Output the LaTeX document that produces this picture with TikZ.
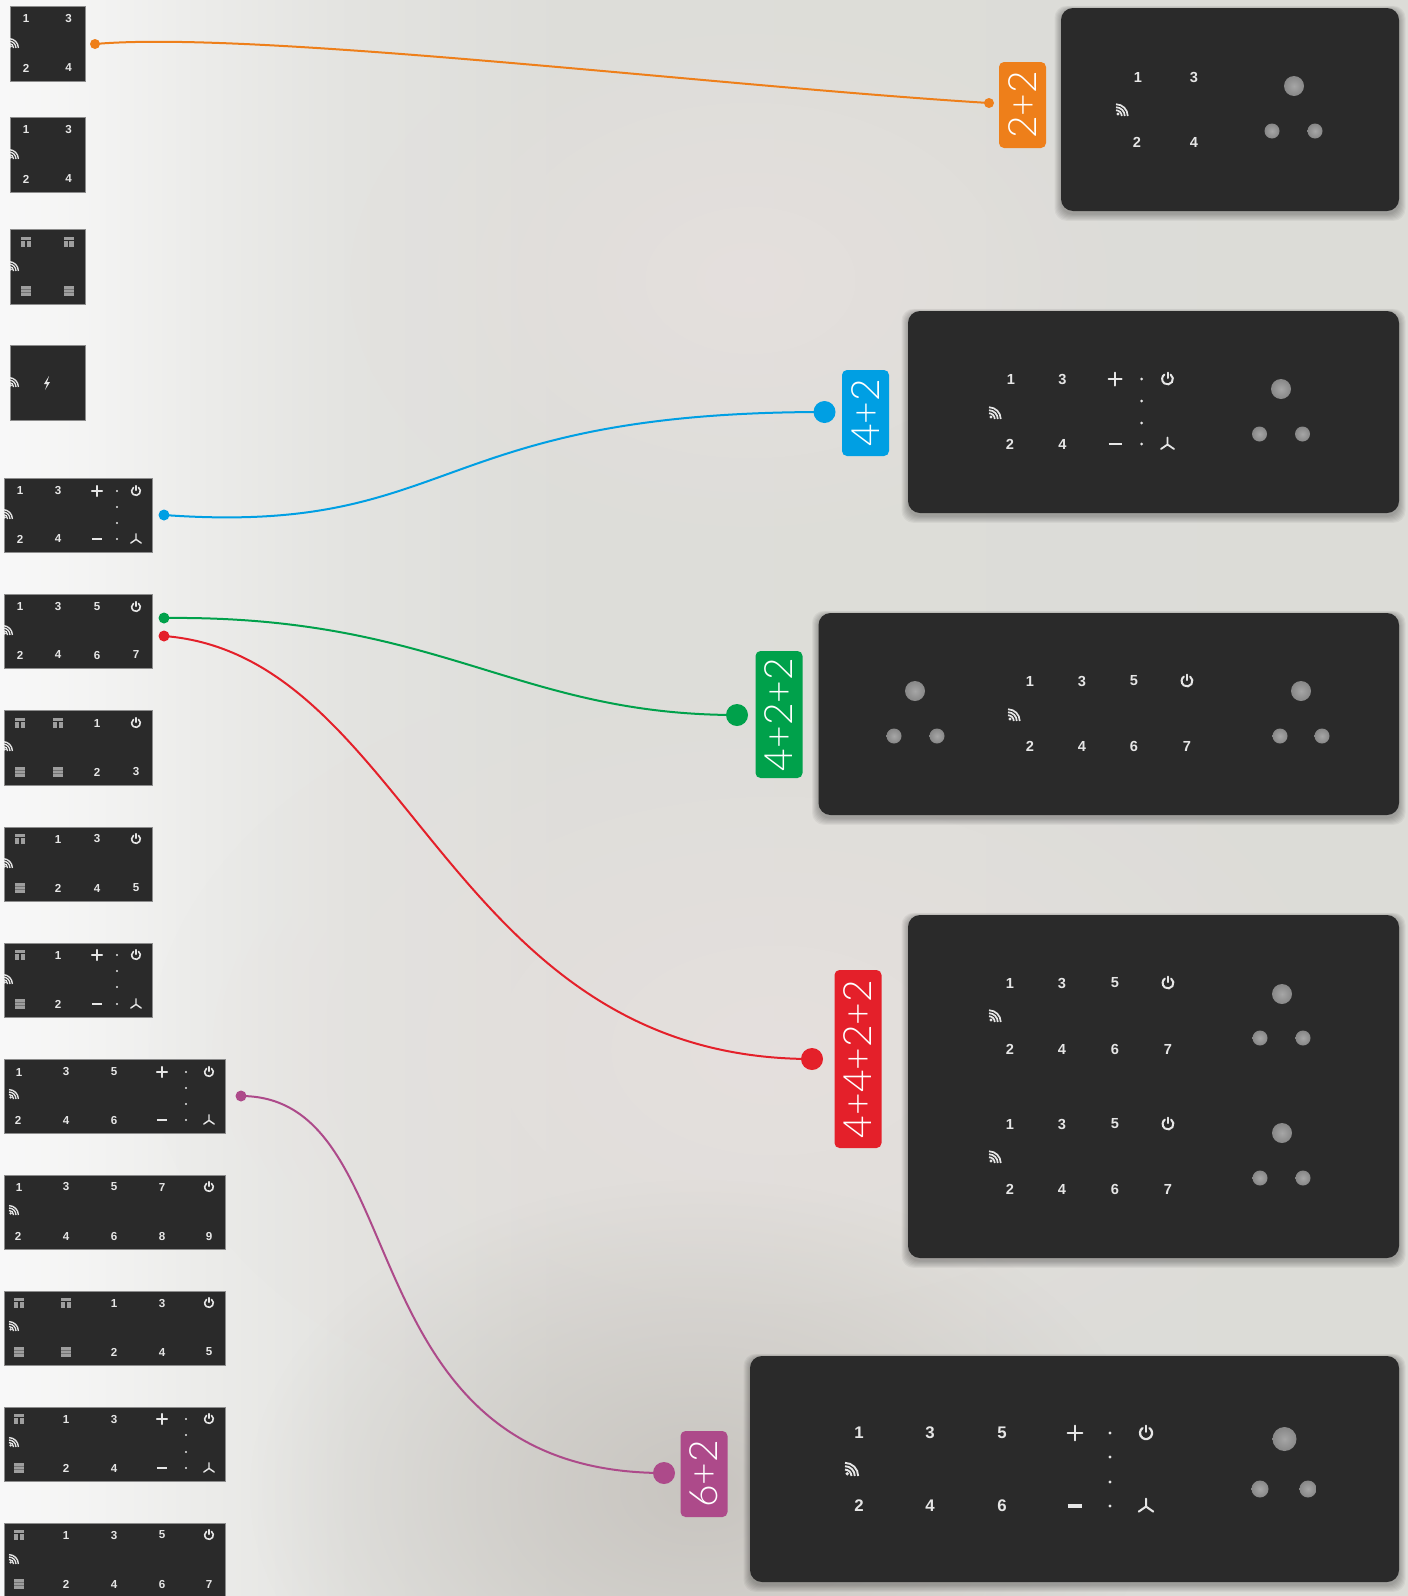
\documentclass[tikz,border=0pt]{standalone}
\usepackage{fontspec}
\setmainfont{Liberation Sans}
\newfontfamily\thinf{Lato Light}
\usetikzlibrary{fadings}
\definecolor{panelc}{HTML}{2A2A2A}
\definecolor{digc}{HTML}{E6E6E6}
\definecolor{iconc}{HTML}{9E9E9E}
\definecolor{corange}{HTML}{EE7F1A}
\definecolor{cblue}{HTML}{009FE3}
\definecolor{cgreen}{HTML}{00A14B}
\definecolor{cred}{HTML}{E4202A}
\definecolor{cpurple}{HTML}{AD4A8A}
\definecolor{bga}{HTML}{F8F8F8}
\definecolor{bgb}{HTML}{F3F3F2}
\definecolor{bgc}{HTML}{ECECEA}
\definecolor{bgd}{HTML}{E3E3E0}
\definecolor{bge}{HTML}{DDDDD9}
\definecolor{bgf}{HTML}{DCDCD7}
\definecolor{blobd}{HTML}{C6C2BD}
\definecolor{blobm}{HTML}{E6E0DE}
\pgfdeclarehorizontalshading{bgsh}{100bp}{color(0bp)=(bga); color(25bp)=(bga); color(28.5bp)=(bgb); color(32bp)=(bgc); color(37.5bp)=(bgd); color(45bp)=(bge); color(75bp)=(bgf); color(100bp)=(bgf)}
\tikzfading[name=softblob,inner color=transparent!10,outer color=transparent!100]
\newcounter{nn}
\def\dsz{5.8}
\def\ics{0.8}
\tikzset{
  dig/.style={inner sep=0pt,text=digc,font=\fontsize{\dsz}{\dsz}\selectfont\bfseries},
  iconl/.style={draw=digc,line width={\ics*1.0pt},line cap=round},
  smallp/.style={fill=panelc,draw=black!45,line width=.4pt,inner sep=0pt},
  largep/.style={fill=panelc,rounded corners=6pt,inner sep=0pt},
  badge/.style={rounded corners=2.5pt,inner sep=0pt,text=white,rotate=90,font=\thinf\fontsize{19.5}{19.5}\selectfont},
  endp/.style={circle,inner sep=0pt},
  curve/.style={line width=1pt},
  burner/.style={circle,inner sep=0pt,inner color=black!35,outer color=black!47},
}
\newcommand\dg[3]{\stepcounter{nn}\node[dig] (t\thenn) at (#1,#2) {#3};}
\newcommand\wifi[2]{%
  \fill[digc] ({#1+1.6*\ics/.8},{#2-1.6*\ics/.8}) circle ({1.3*\ics/.8});
  \foreach \r in {4.6,7,9.4}{
    \draw[draw=digc,line width={\ics*.85pt}] ({#1},{#2-\r*\ics/.8}) .. controls ({#1+.55*\r*\ics/.8},{#2-\r*\ics/.8}) and ({#1+\r*\ics/.8},{#2-.55*\r*\ics/.8}) .. ({#1+\r*\ics/.8},{#2});
  }}
\newcommand\poweri[2]{%
  \draw[iconl] ({#1+5.4*\ics*cos(55)},{#2-5.4*\ics*sin(55)}) arc[start angle=55,end angle=-235,radius={\ics*2.7pt}];
  \draw[iconl] ({#1},{#2-6.5*\ics}) -- ({#1},{#2-1*\ics});}
\newcommand\fani[2]{%
  \draw[iconl,line width={\ics*.9pt}] ({#1},{#2-6.5*\ics}) -- ({#1},{#2+.5*\ics}) -- ({#1-6.5*\ics},{#2+5*\ics}) ({#1},{#2+.5*\ics}) -- ({#1+6.5*\ics},{#2+5*\ics});}
\newcommand\plusi[2]{\draw[iconl] ({#1-6.5*\ics},{#2}) -- ({#1+6.5*\ics},{#2}) ({#1},{#2-6.5*\ics}) -- ({#1},{#2+6.5*\ics});}
\newcommand\minusi[2]{\draw[iconl,line width={\ics*1.4pt},line cap=butt] ({#1-6.5*\ics},{#2}) -- ({#1+6.5*\ics},{#2});}
\newcommand\doti[2]{\fill[digc] (#1,#2) circle ({1.5*\ics});}
\newcommand\ctrl[7]{%
  \plusi{#1}{#4}\minusi{#1}{#7}\poweri{#3}{#4}\fani{#3}{#7}%
  \doti{#2}{#4}\doti{#2}{#5}\doti{#2}{#6}\doti{#2}{#7}}
\newcommand\pottop[2]{%
  \fill[iconc] ({#1-5},{#2-5}) rectangle ({#1+5},{#2+5});
  \draw[panelc,line width=.3pt] ({#1-5},{#2-1.8}) -- ({#1+5},{#2-1.8});
  \draw[panelc,line width=.8pt] ({#1},{#2-1}) -- ({#1},{#2+5});}
\newcommand\potbot[2]{%
  \fill[iconc] ({#1-5},{#2-5}) rectangle ({#1+5},{#2+5});
  \draw[black!55,line width=.3pt] ({#1-5},{#2-1.5}) -- ({#1+5},{#2-1.5}) ({#1-5},{#2+1.5}) -- ({#1+5},{#2+1.5});}
\newcommand\panelS[5]{%
  \node[smallp,minimum width={(#4-#2)*.5},minimum height={(#5-#3)*.5}] (#1) at ({(#2+#4)/2},{(#3+#5)/2}) {};}
\newcommand\wifiC[3]{\begin{scope}\clip (#1,{#3-15}) rectangle ({#1+20},{#3+3});\wifi{#2}{#3}\end{scope}}
\newcommand\panelL[5]{%
  \foreach \i in {1,...,7}{\fill[black,opacity=.045,rounded corners=6pt] ({#2-\i+.5},{#3+2-\i*.6}) rectangle ({#4+\i-.5},{#5+2.5+\i*1.05});}
  \node[largep,minimum width={(#4-#2)*.5},minimum height={(#5-#3)*.5}] (#1) at ({(#2+#4)/2},{(#3+#5)/2}) {};}
\newcommand\burners[6]{\node[burner,minimum size=10pt] (b\thenn a) at (#1,#2) {};
  \node[burner,minimum size=7.5pt] (b\thenn b) at (#3,#4) {};
  \node[burner,minimum size=7.5pt] (b\thenn c) at (#5,#6) {};\stepcounter{nn}}
\begin{document}
\begin{tikzpicture}[x=.5pt,y=-.5pt]
\useasboundingbox (0,0) rectangle (1408,1596);
\clip (0,0) rectangle (1408,1596);
\shade[shading=bgsh] (0,0) rectangle (1408,1596);
\fill[blobm,path fading=softblob,fit fading=true] (150,650) rectangle (1400,1450);
\fill[blobm,path fading=softblob,fit fading=true] (350,0) rectangle (1150,560);
\fill[blobd,path fading=softblob,fit fading=true] (250,1180) rectangle (1150,1800);

% small square panels
\def\dsz{5.8}\def\ics{.8}
\panelS{p1}{10}{6}{85}{81}
\dg{26}{19}{1}\dg{68.5}{19}{3}\dg{26}{68}{2}\dg{68.5}{68}{4}\wifiC{10}{9}{48}
\panelS{p2}{10}{117}{85}{192}
\dg{26}{130}{1}\dg{68.5}{130}{3}\dg{26}{179}{2}\dg{68.5}{179}{4}\wifiC{10}{9}{159}
\panelS{p3}{10}{229}{85}{304}
\pottop{26}{242}\pottop{68.5}{242}\potbot{26}{291}\potbot{68.5}{291}\wifiC{10}{9}{271}
\panelS{p4}{10}{345}{85}{420}
\wifiC{10}{9}{387}
\fill[digc] (49,376) -- (44,384) -- (47,384) -- (45,390) -- (50,382) -- (47,382) -- cycle;

% medium panels
\panelS{p5}{4}{478}{152}{552}
\dg{20}{491}{1}\dg{58}{491}{3}\dg{20}{539}{2}\dg{58}{539}{4}
\ctrl{97}{117}{136}{491}{507}{523}{539}\wifiC{4}{3}{519}
\panelS{p6}{4}{594}{152}{668}
\dg{20}{607}{1}\dg{58}{607}{3}\dg{97}{607}{5}\dg{20}{655}{2}\dg{58}{655}{4}\dg{97}{655}{6}\dg{136}{655}{7}
\poweri{136}{607}\wifiC{4}{3}{635}
\panelS{p7}{4}{710}{152}{785}
\pottop{20}{723}\pottop{58}{723}\dg{97}{723}{1}\poweri{136}{723}
\potbot{20}{772}\potbot{58}{772}\dg{97}{772}{2}\dg{136}{772}{3}\wifiC{4}{3}{751}
\panelS{p8}{4}{827}{152}{901}
\pottop{20}{839}\dg{58}{839}{1}\dg{97}{839}{3}\poweri{136}{839}
\potbot{20}{888}\dg{58}{888}{2}\dg{97}{888}{4}\dg{136}{888}{5}\wifiC{4}{3}{868}
\panelS{p9}{4}{943}{152}{1017}
\pottop{20}{955}\dg{58}{955}{1}\potbot{20}{1004}\dg{58}{1004}{2}
\ctrl{97}{117}{136}{955}{971}{987}{1004}\wifiC{4}{3}{984}

% wide panels
\panelS{p10}{4}{1059}{225}{1133}
\dg{19}{1072}{1}\dg{66}{1072}{3}\dg{114}{1072}{5}\dg{18}{1120}{2}\dg{66}{1120}{4}\dg{114}{1120}{6}
\ctrl{162}{186}{209}{1072}{1088}{1104}{1120}\wifi{9}{1099}
\panelS{p11}{4}{1175}{225}{1249}
\dg{19}{1187}{1}\dg{66}{1187}{3}\dg{114}{1187}{5}\dg{162}{1187}{7}\poweri{209}{1187}
\dg{18}{1236}{2}\dg{66}{1236}{4}\dg{114}{1236}{6}\dg{162}{1236}{8}\dg{209}{1236}{9}\wifi{9}{1215}
\panelS{p12}{4}{1291}{225}{1365}
\pottop{19}{1303}\pottop{66}{1303}\dg{114}{1303}{1}\dg{162}{1303}{3}\poweri{209}{1303}
\potbot{19}{1352}\potbot{66}{1352}\dg{114}{1352}{2}\dg{162}{1352}{4}\dg{209}{1352}{5}\wifi{9}{1331}
\panelS{p13}{4}{1407}{225}{1481}
\pottop{19}{1419}\dg{66}{1419}{1}\dg{114}{1419}{3}\potbot{19}{1468}\dg{66}{1468}{2}\dg{114}{1468}{4}
\ctrl{162}{186}{209}{1419}{1435}{1452}{1468}\wifi{9}{1447}
\panelS{p14}{4}{1523}{225}{1620}
\pottop{19}{1535}\dg{66}{1535}{1}\dg{114}{1535}{3}\dg{162}{1535}{5}\poweri{209}{1535}
\potbot{19}{1584}\dg{66}{1584}{2}\dg{114}{1584}{4}\dg{162}{1584}{6}\dg{209}{1584}{7}\wifi{9}{1564}

% large panels
\def\dsz{7.3}\def\ics{1}
\panelL{L1}{1061}{8}{1399}{211}
\dg{1138}{77}{1}\dg{1194}{77}{3}\dg{1137}{142}{2}\dg{1194}{142}{4}\wifi{1116}{116}
\burners{1294}{86}{1272}{131}{1315}{131}

\panelL{L2}{908}{311}{1399}{513}
\dg{1011}{379}{1}\dg{1062.5}{379}{3}\dg{1010}{444}{2}\dg{1062.5}{444}{4}\wifi{989}{419}
\ctrl{1115}{1141.5}{1167.5}{379}{401}{423}{444}
\burners{1281}{389}{1259.5}{434}{1302.5}{434}

\panelL{L3}{818.5}{613}{1399}{815}
\dg{1030}{681}{1}\dg{1082}{681}{3}\dg{1134}{681}{5}\poweri{1187}{681}
\dg{1030}{746}{2}\dg{1082}{746}{4}\dg{1134}{746}{6}\dg{1187}{746}{7}\wifi{1008}{721}
\burners{915}{691}{894}{736}{937}{736}
\burners{1301}{691}{1280}{736}{1322}{736}

\panelL{L4}{908}{915}{1399}{1258}
\dg{1010}{983}{1}\dg{1062}{983}{3}\dg{1115}{983}{5}\poweri{1168}{983}
\dg{1010}{1049}{2}\dg{1062}{1049}{4}\dg{1115}{1049}{6}\dg{1168}{1049}{7}\wifi{989}{1022}
\dg{1010}{1124}{1}\dg{1062}{1124}{3}\dg{1115}{1124}{5}\poweri{1168}{1124}
\dg{1010}{1189}{2}\dg{1062}{1189}{4}\dg{1115}{1189}{6}\dg{1168}{1189}{7}\wifi{989}{1163}
\burners{1282}{994}{1260}{1038}{1303}{1038}
\burners{1282}{1133}{1260}{1178}{1303}{1178}

\def\dsz{8.4}\def\ics{1.12}
\panelL{L5}{750}{1356}{1399}{1582}
\dg{859}{1433}{1}\dg{930}{1433}{3}\dg{1002}{1433}{5}\dg{859}{1506}{2}\dg{930}{1506}{4}\dg{1002}{1506}{6}\wifi{845}{1476}
\ctrl{1075}{1110}{1146}{1433}{1457}{1482}{1506}
\node[burner,minimum size=12pt] (bL) at (1284.5,1439) {};
\node[burner,minimum size=8.5pt] (bM) at (1260,1489) {};
\node[burner,minimum size=8.5pt] (bR) at (1308,1489) {};

% badges
\node[badge,fill=corange,minimum width=43pt,minimum height=23.5pt] (b22) at (1022.5,105) {2+2};
\node[badge,fill=cblue,minimum width=43pt,minimum height=23.5pt] (b42) at (865.5,413) {4+2};
\node[badge,fill=cgreen,minimum width=63.5pt,minimum height=23.5pt] (b422) at (779,714.5) {4+2+2};
\node[badge,fill=cred,minimum width=89pt,minimum height=23.5pt] (b4422) at (858,1059) {4+4+2+2};
\node[badge,fill=cpurple,minimum width=43pt,minimum height=23.5pt] (b62) at (704,1474) {6+2};

% connectors
\node[endp,fill=corange,minimum size=5pt] (oa) at (95,44) {};
\node[endp,fill=corange,minimum size=5pt] (ob) at (989,103) {};
\node[endp,fill=cblue,minimum size=5.5pt] (ba) at (164,515) {};
\node[endp,fill=cblue,minimum size=11pt] (bb) at (824.5,412) {};
\node[endp,fill=cgreen,minimum size=5.5pt] (ga) at (164,618) {};
\node[endp,fill=cgreen,minimum size=11pt] (gb) at (737,715) {};
\node[endp,fill=cred,minimum size=5.5pt] (ra) at (164,636) {};
\node[endp,fill=cred,minimum size=11pt] (rb) at (812,1059) {};
\node[endp,fill=cpurple,minimum size=5.5pt] (pa) at (241,1096) {};
\node[endp,fill=cpurple,minimum size=11pt] (pb) at (664,1473) {};
\draw[curve,corange] (oa.center) .. controls (255,30) and (713,86) .. (ob.center);
\draw[curve,cblue] (ba.center) .. controls (457,536) and (427,412) .. (bb.center);
\draw[curve,cgreen] (ga.center) .. controls (440,615) and (515,715) .. (gb.center);
\draw[curve,cred] (ra.center) .. controls (410,655) and (447,1059) .. (rb.center);
\draw[curve,cpurple] (pa.center) .. controls (419,1096) and (340,1473) .. (pb.center);
\end{tikzpicture}
\end{document}
